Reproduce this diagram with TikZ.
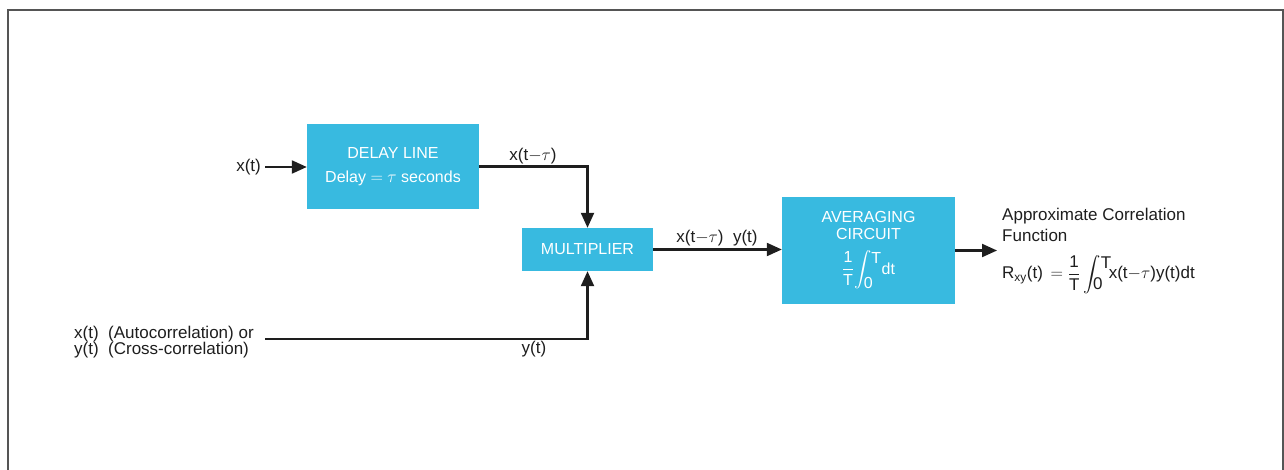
\documentclass[tikz,border=0pt]{standalone}
\usepackage{amsmath}
\usepackage{fontspec}
\setmainfont{Liberation Sans}
\usetikzlibrary{arrows.meta}
\definecolor{boxblue}{RGB}{56,186,224}
\definecolor{ink}{RGB}{30,30,30}
\definecolor{rulegray}{RGB}{85,85,85}
\begin{document}
\begin{tikzpicture}[x=1pt,y=-1pt,
  blk/.style={fill=boxblue, draw=none, text=white, inner sep=0pt},
  blktxt/.style={text=white, inner sep=0pt, align=center, font=\fontsize{16}{17}\selectfont},
  lbl/.style={text=ink, inner sep=0pt, font=\fontsize{17}{21}\selectfont},
  conn/.style={draw=ink, line width=2.2pt, -{Triangle[length=15pt,width=13pt]}},
  border/.style={draw=rulegray, line width=1.5pt}]
\useasboundingbox (0,0) rectangle (1284,470);
% frame
\draw[border] (8,470) -- (8,10) -- (1283,10) -- (1283,470);

% blocks
\node[blk, minimum width=172pt, minimum height=85pt, align=center,
      font=\fontsize{16}{24}\selectfont] (delay) at (393,166.5)
      {DELAY LINE\\Delay $=$ $\tau$ seconds};
\node[blk, minimum width=131pt, minimum height=43pt,
      font=\fontsize{16}{17}\selectfont] (mult) at (587.5,249.5) {MULTIPLIER};
\node[blk, minimum width=173pt, minimum height=107pt] (avg) at (868.5,250.5) {};
\node[blktxt, anchor=north] (avgt) at (868.5,211.5) {AVERAGING\\CIRCUIT};
\node[blktxt, anchor=base] (avgf) at (868.5,274)
  {$\displaystyle\frac{\mbox{1}}{\mbox{T}}\!\int_{\raisebox{1pt}{\mbox{0}}}^{\raisebox{-9pt}{\mbox{T}}}\!\mbox{dt}$};

% labels
\node[lbl, anchor=east] (xin) at (261,167) {x(t)};
\node[lbl] (lxd) at (533,156) {x(t$-\tau$)};
\node[lbl, anchor=north west, align=left, font=\fontsize{17}{16.3}\selectfont] (in2) at (74,325.5)
  {x(t)\ \ (Autocorrelation)\ or\\y(t)\ \ (Cross-correlation)};
\node[lbl] (ly) at (534,349) {y(t)};
\node[lbl] (lprod) at (717,238.5) {x(t$-\tau$)\ \ y(t)};
\node[lbl, anchor=north west, align=left] (corr) at (1002,208)
  {Approximate Correlation\\Function};
\node[lbl, anchor=base west] (rxy) at (1002,279)
  {R\textsubscript{xy}(t)\,${}=\displaystyle\frac{\mbox{1}}{\mbox{T}}\int_{\raisebox{5pt}{\mbox{0}}}^{\raisebox{-8pt}{\mbox{T}}}\!$x(t$-\tau$)y(t)dt};

% connectors
\coordinate (b0) at (265,339);
\coordinate (out) at (997,250.5);
\draw[conn] ([xshift=4pt]xin.east) -- (xin.east -| delay.west);
\draw[conn] (delay.east) -| (mult.north);
\draw[conn] (b0) -| (mult.south);
\draw[conn] (mult.east) -- (mult.east -| avg.west);
\draw[conn] (avg.east) -- (out);
\end{tikzpicture}
\end{document}
